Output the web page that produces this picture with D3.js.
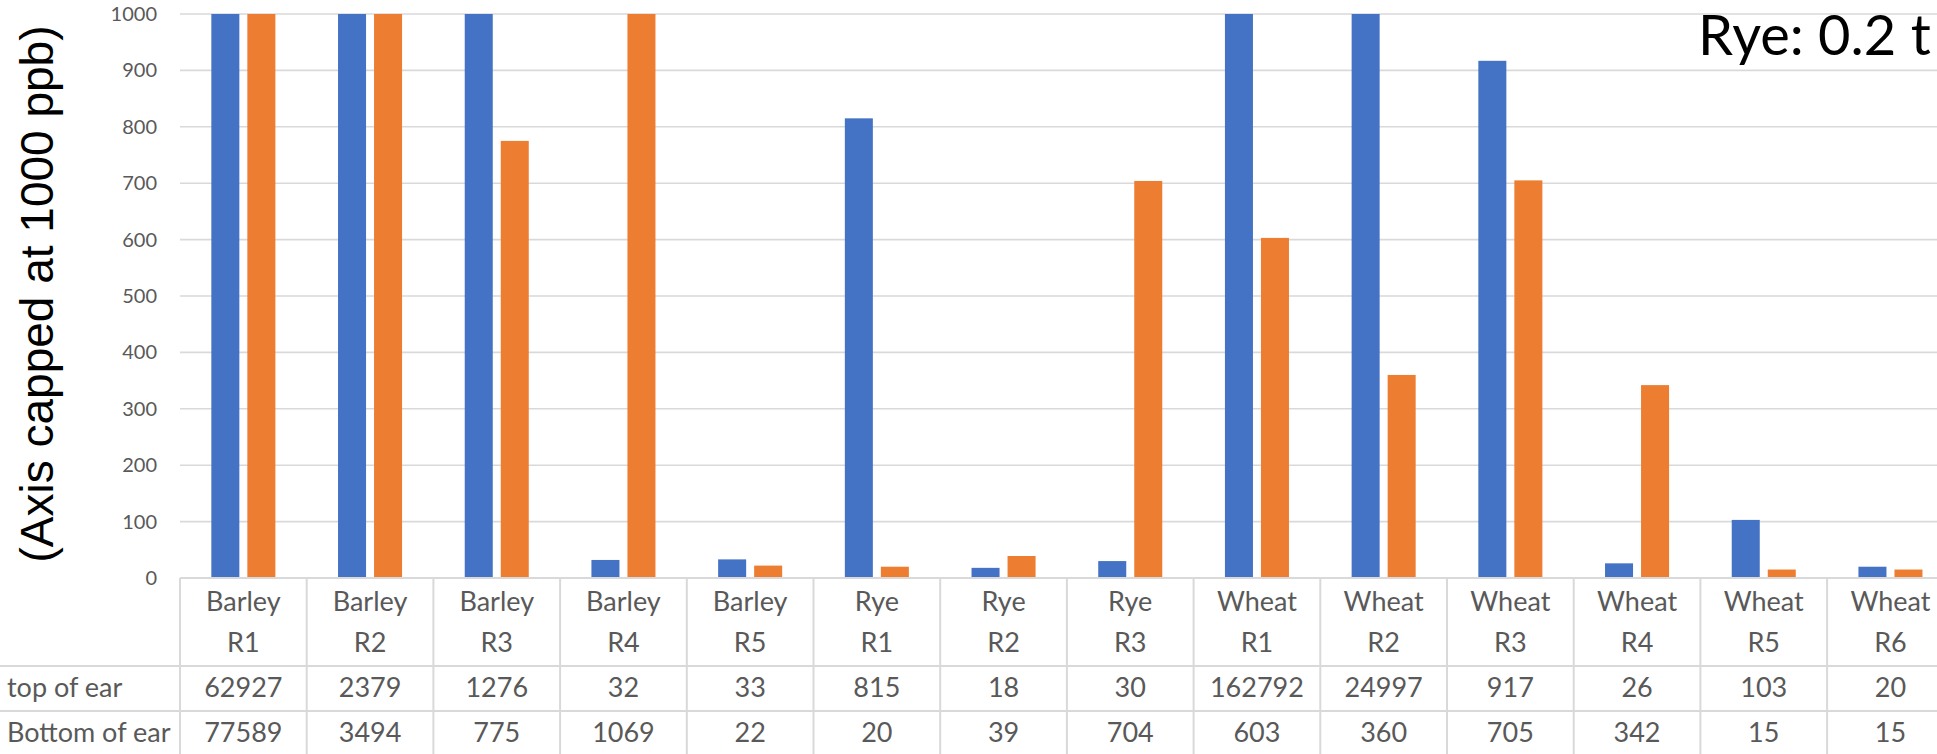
<!DOCTYPE html>
<html>
<head>
<meta charset="utf-8">
<script src="https://cdn.jsdelivr.net/npm/d3@7"></script>
<style>
  html, body { margin: 0; padding: 0; background: #fff; }
  svg { display: block; }
</style>
</head>
<body>
<svg id="chart" width="1937" height="754"></svg>
<script>
// Sample groups (crop + replicate) and the two measured positions on the ear
const crops = ["Barley", "Barley", "Barley", "Barley", "Barley", "Rye", "Rye", "Rye",
               "Wheat", "Wheat", "Wheat", "Wheat", "Wheat", "Wheat"];
const reps = ["R1", "R2", "R3", "R4", "R5", "R1", "R2", "R3",
              "R1", "R2", "R3", "R4", "R5", "R6"];
const seriesNames = ["top of ear", "Bottom of ear"];
const topOfEar = [62927, 2379, 1276, 32, 33, 815, 18, 30, 162792, 24997, 917, 26, 103, 20];
const bottomOfEar = [77589, 3494, 775, 1069, 22, 20, 39, 704, 603, 360, 705, 342, 15, 15];
const yTicks = [0, 100, 200, 300, 400, 500, 600, 700, 800, 900, 1000];
const yCap = 1000;

const colors = ["#4472C4", "#ED7D31"];
const gridColor = "#d9d9d9";
const textColor = "#595959";
const fontFamily = "Lato, 'Open Sans', sans-serif";

const svg = d3.select("#chart");
const W = 1937, H = 754;

// Plot area geometry
const plotLeft = 180, plotTop = 14, plotBottom = 578;
const catStep = 126.7;
const rowLines = [666, 711];

const keys = crops.map((c, i) => i);
const x0 = d3.scaleBand().domain(keys).range([plotLeft, plotLeft + catStep * keys.length]).padding(0);
const x1 = d3.scaleBand().domain([0, 1]).range([0, x0.bandwidth()])
  .paddingInner(0.2222).paddingOuter(0.87);
const y = d3.scaleLinear().domain([0, yCap]).range([plotBottom, plotTop]).clamp(true);

// Horizontal gridlines
svg.append("g")
  .selectAll("line")
  .data(yTicks)
  .join("line")
  .attr("x1", plotLeft).attr("x2", W)
  .attr("y1", d => y(d)).attr("y2", d => y(d))
  .attr("stroke", gridColor).attr("stroke-width", 1.6);

// Y axis labels
const yAxis = d3.axisLeft(y).tickValues(yTicks).tickFormat(d3.format("d")).tickSize(0).tickPadding(23);
const gy = svg.append("g").attr("transform", `translate(${plotLeft},0)`).call(yAxis);
gy.select(".domain").remove();
gy.selectAll("text")
  .attr("fill", textColor)
  .style("font-family", fontFamily)
  .style("font-size", "20px");

// Bars (values above the cap are clipped to the top of the axis)
const series = [topOfEar, bottomOfEar];
series.forEach((vals, s) => {
  svg.append("g")
    .selectAll("rect")
    .data(vals.map((v, i) => ({ i, v })))
    .join("rect")
    .attr("x", d => x0(d.i) + x1(s))
    .attr("width", x1.bandwidth())
    .attr("y", d => y(d.v))
    .attr("height", d => plotBottom - y(d.v))
    .attr("fill", colors[s]);
});

// Data table below the plot
const table = svg.append("g");
table.append("line")
  .attr("x1", plotLeft).attr("x2", W)
  .attr("y1", plotBottom).attr("y2", plotBottom)
  .attr("stroke", gridColor).attr("stroke-width", 2);
rowLines.forEach(ry => {
  table.append("line")
    .attr("x1", 0).attr("x2", W)
    .attr("y1", ry).attr("y2", ry)
    .attr("stroke", gridColor).attr("stroke-width", 2);
});
keys.concat([keys.length]).forEach(i => {
  const xx = plotLeft + catStep * i;
  table.append("line")
    .attr("x1", xx).attr("x2", xx)
    .attr("y1", plotBottom).attr("y2", H)
    .attr("stroke", gridColor).attr("stroke-width", 2);
});

const cellText = (xPos, yPos, txt, anchor) =>
  table.append("text")
    .attr("x", xPos).attr("y", yPos)
    .attr("text-anchor", anchor || "middle")
    .attr("fill", textColor)
    .style("font-family", fontFamily)
    .style("font-size", "27px")
    .text(txt);

keys.forEach(i => {
  const cx = x0(i) + x0.bandwidth() / 2;
  cellText(cx, 611, crops[i]);
  cellText(cx, 652, reps[i]);
  cellText(cx, 697, topOfEar[i]);
  cellText(cx, 742, bottomOfEar[i]);
});
cellText(7, 697, seriesNames[0], "start");
cellText(7, 742, seriesNames[1], "start");

// Y axis title
svg.append("text")
  .attr("transform", `translate(53,${294}) rotate(-90)`)
  .attr("text-anchor", "middle")
  .attr("fill", "#000")
  .style("font-family", "'Liberation Sans', Arial, sans-serif")
  .style("font-size", "46px")
  .text("(Axis capped at 1000 ppb)");

// Annotation at top right
svg.append("text")
  .attr("x", 1698).attr("y", 55)
  .attr("fill", "#000")
  .style("font-family", fontFamily)
  .style("font-size", "56px")
  .text("Rye: 0.2 t");
</script>
</body>
</html>
